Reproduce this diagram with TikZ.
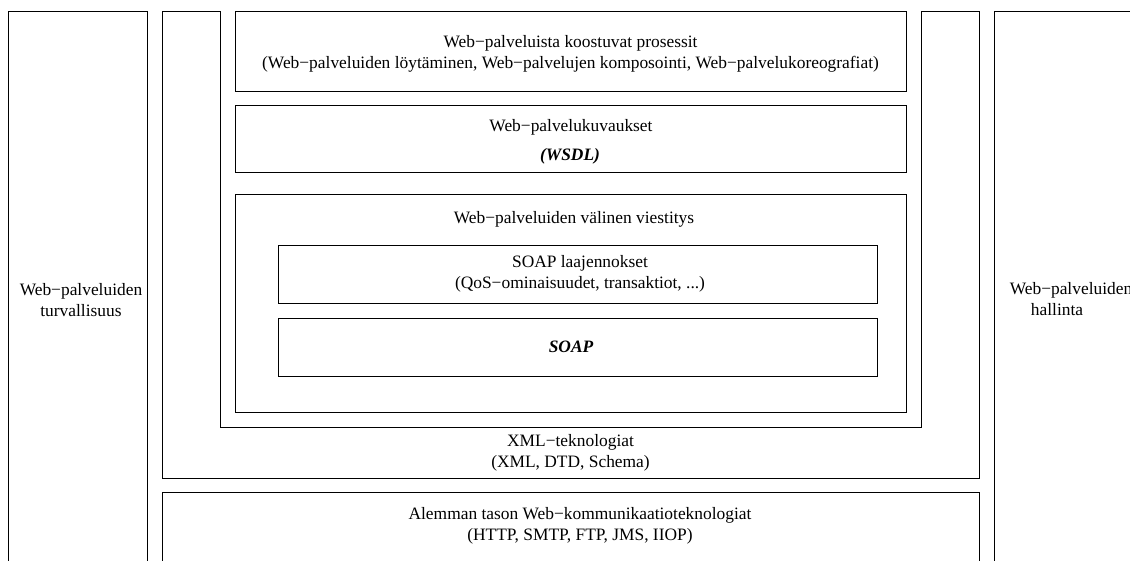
\documentclass[tikz,border=0pt]{standalone}
\usepackage{fontspec}
\setmainfont{Liberation Serif}
\begin{document}
\begin{tikzpicture}[x=1pt,y=-1pt,
  layer/.style={draw=black, line width=0.9pt, inner sep=0pt, outer sep=0pt, anchor=north west},
  caption/.style={align=center, inner sep=0pt, font=\fontsize{17.4}{21}\selectfont},
  stress/.style={inner sep=0pt, font=\fontsize{17.4}{21}\selectfont\bfseries\itshape}]
\useasboundingbox (0,0) rectangle (1130,560);

% side pillars
\node[layer, minimum width=139pt, minimum height=570pt] (sec) at (8,11) {};
\node[layer, minimum width=139pt, minimum height=570pt] (mgmt) at (994,11) {};

% XML layer: a U shape around the web service stack
\draw[line width=0.9pt] (162,11) -- (220,11) -- (220,427) -- (921,427) -- (921,11)
  -- (979,11) -- (979,478) -- (162,478) -- cycle;
\coordinate (xml) at (570.5,453);

% web service stack
\node[layer, minimum width=671pt, minimum height=80pt] (proc) at (235,11) {};
\node[layer, minimum width=671pt, minimum height=67pt] (wsdl) at (235,105) {};
\node[layer, minimum width=671pt, minimum height=218pt] (msg) at (235,194) {};
\node[layer, minimum width=599pt, minimum height=58pt] (ext) at (278,245) {};
\node[layer, minimum width=599pt, minimum height=58pt] (soap) at (278,318) {};

% transport layer
\node[layer, minimum width=817pt, minimum height=80pt] (low) at (162,492) {};

% captions
\node[caption] (procT) at (570.5,54) {Web−palveluista koostuvat prosessit\\(Web−palveluiden löytäminen, Web−palvelujen komposointi, Web−palvelukoreografiat)};
\node[caption] (wsdlT) at (571,127) {Web−palvelukuvaukset};
\node[stress] (wsdlS) at (570,156) {(WSDL)};
\node[caption] (msgT) at (574,219) {Web−palveluiden välinen viestitys};
\node[caption] (extT) at (580,274) {SOAP laajennokset\\(QoS−ominaisuudet, transaktiot, ...)};
\node[stress] (soapT) at (571,347) {SOAP};
\node[caption] (xmlT) at (xml) {XML−teknologiat\\(XML, DTD, Schema)};
\node[caption] (lowT) at (580,526) {Alemman tason Web−kommunikaatioteknologiat\\(HTTP, SMTP, FTP, JMS, IIOP)};
\node[caption] (secT) at (81,300) {Web−palveluiden\\turvallisuus};
\node[caption] (mgmtT) at (1071,290) {Web−palveluiden};
\node[caption] (mgmtU) at (1057,310) {hallinta};
\end{tikzpicture}
\end{document}
